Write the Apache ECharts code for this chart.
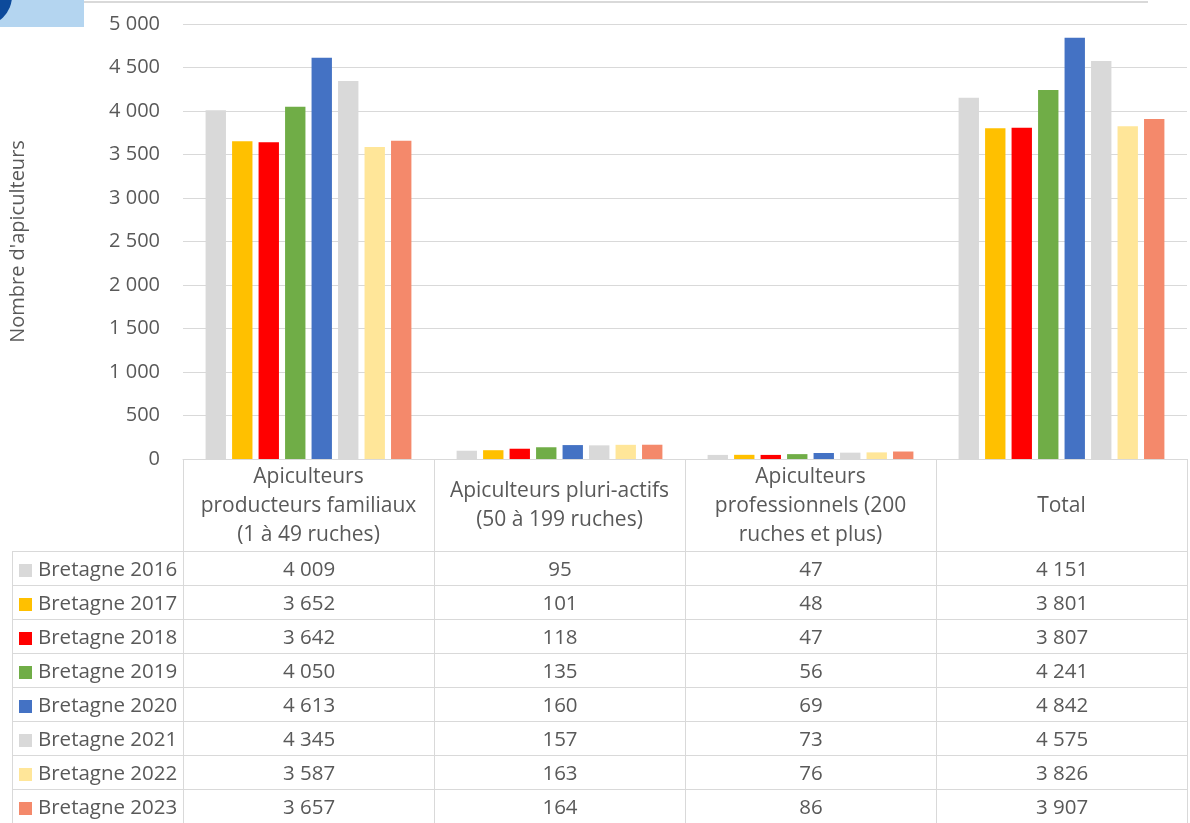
<!DOCTYPE html>
<html>
<head>
<meta charset="utf-8">
<script src="https://cdn.jsdelivr.net/npm/echarts@6/dist/echarts.min.js"></script>
<style>
  html, body { margin: 0; padding: 0; background: #fff; }
  body { width: 1190px; height: 823px; position: relative; overflow: hidden; font-family: "Open Sans", "Noto Sans", sans-serif; }
  #chart { position: absolute; left: 0; top: 0; width: 1190px; height: 823px; }
  #tbl { position: absolute; left: 12px; top: 459px; border-collapse: collapse; table-layout: fixed; color: #595959; font-size: 20.5px; }
  #tbl td { border: 1px solid #D9D9D9; padding: 0; text-align: center; white-space: nowrap; box-sizing: border-box; }
  #tbl tr.head td { height: 92px; }
  #tbl tr.row td { height: 34px; }
  #tbl td.name { text-align: left; padding-left: 6px; }
  #tbl td.corner { border: none; border-right: 1px solid #D9D9D9; border-bottom: 1px solid #D9D9D9; }
  .key { display: inline-block; width: 13px; height: 13px; margin-right: 6px; vertical-align: -1px; }
</style>
</head>
<body>
<div id="chart"></div>
<table id="tbl"></table>
<script>
// ---- data ----
const categories = [
  'Apiculteurs producteurs familiaux (1 à 49 ruches)',
  'Apiculteurs pluri-actifs (50 à 199 ruches)',
  'Apiculteurs professionnels (200 ruches et plus)',
  'Total'
];
const categoryLabels = [
  'Apiculteurs\nproducteurs familiaux\n(1 à 49 ruches)',
  'Apiculteurs pluri-actifs\n(50 à 199 ruches)',
  'Apiculteurs\nprofessionnels (200\nruches et plus)',
  'Total'
];
const seriesNames = ['Bretagne 2016', 'Bretagne 2017', 'Bretagne 2018', 'Bretagne 2019',
                     'Bretagne 2020', 'Bretagne 2021', 'Bretagne 2022', 'Bretagne 2023'];
const bretagne2016 = [4009, 95, 47, 4151];
const bretagne2017 = [3652, 101, 48, 3801];
const bretagne2018 = [3642, 118, 47, 3807];
const bretagne2019 = [4050, 135, 56, 4241];
const bretagne2020 = [4613, 160, 69, 4842];
const bretagne2021 = [4345, 157, 73, 4575];
const bretagne2022 = [3587, 163, 76, 3826];
const bretagne2023 = [3657, 164, 86, 3907];
const seriesValues = [bretagne2016, bretagne2017, bretagne2018, bretagne2019,
                      bretagne2020, bretagne2021, bretagne2022, bretagne2023];
const yTicks = { min: 0, max: 5000, interval: 500 };
const colors = ['#D9D9D9', '#FFC000', '#FF0000', '#70AD47', '#4472C4', '#D9D9D9', '#FFE699', '#F4896B'];

const fmt = v => String(v).replace(/\B(?=(\d{3})+(?!\d))/g, ' ');
const FONT = '"Open Sans", "Noto Sans", sans-serif';

// ---- chart ----
const chart = echarts.init(document.getElementById('chart'), null, { renderer: 'canvas' });
chart.setOption({
  animation: false,
  color: colors,
  textStyle: { fontFamily: FONT },
  grid: { left: 183, right: 3, top: 24, bottom: 364, containLabel: false, outerBoundsMode: 'none' },
  xAxis: {
    type: 'category',
    data: categories,
    axisLine: { show: true, lineStyle: { color: '#D9D9D9', width: 1 } },
    axisTick: { show: false },
    axisLabel: {
      interval: 0,
      color: '#595959',
      fontSize: 21,
      fontFamily: FONT,
      lineHeight: 29,
      margin: 47,
      verticalAlign: 'middle',
      align: 'center',
      formatter: (v, i) => categoryLabels[i]
    }
  },
  yAxis: {
    type: 'value',
    min: yTicks.min, max: yTicks.max, interval: yTicks.interval,
    name: "Nombre d'apiculteurs",
    nameLocation: 'middle',
    nameRotate: 90,
    nameGap: 155,
    nameTextStyle: { color: '#595959', fontSize: 20, fontFamily: FONT },
    axisLine: { show: false },
    axisTick: { show: false },
    splitLine: { lineStyle: { color: '#D9D9D9', width: 1 } },
    axisLabel: { color: '#595959', fontSize: 20, fontFamily: FONT, margin: 23, formatter: v => fmt(v) }
  },
  series: seriesNames.map((name, i) => ({
    name: name,
    type: 'bar',
    data: seriesValues[i],
    barGap: '30%',
    barCategoryGap: '18%',
    itemStyle: { color: colors[i] }
  })),
  graphic: [
    { type: 'rect', left: 0, top: 0, shape: { width: 84, height: 27 }, style: { fill: '#B4D5F0' } },
    { type: 'circle', shape: { cx: -18, cy: -4, r: 30 }, style: { fill: '#0D4A9B' } },
    { type: 'line', shape: { x1: 84, y1: 2, x2: 1148, y2: 2 }, style: { stroke: '#D9D9D9', lineWidth: 2 } }
  ]
});

// ---- data table ----
const tbl = document.getElementById('tbl');
const colW = [171, 251, 251, 251, 251];
const cg = document.createElement('colgroup');
colW.forEach(w => { const c = document.createElement('col'); c.style.width = w + 'px'; cg.appendChild(c); });
tbl.appendChild(cg);
tbl.style.width = colW.reduce((a, b) => a + b, 0) + 'px';
const head = document.createElement('tr');
head.className = 'head';
const corner = document.createElement('td');
corner.className = 'corner';
head.appendChild(corner);
categories.forEach(() => { const td = document.createElement('td'); td.style.borderTop = 'none'; head.appendChild(td); });
tbl.appendChild(head);
seriesNames.forEach((name, i) => {
  const tr = document.createElement('tr');
  tr.className = 'row';
  const n = document.createElement('td');
  n.className = 'name';
  n.innerHTML = '<span class="key" style="background:' + colors[i] + '"></span>' + name;
  tr.appendChild(n);
  seriesValues[i].forEach(v => { const td = document.createElement('td'); td.textContent = fmt(v); tr.appendChild(td); });
  tbl.appendChild(tr);
});
</script>
</body>
</html>
